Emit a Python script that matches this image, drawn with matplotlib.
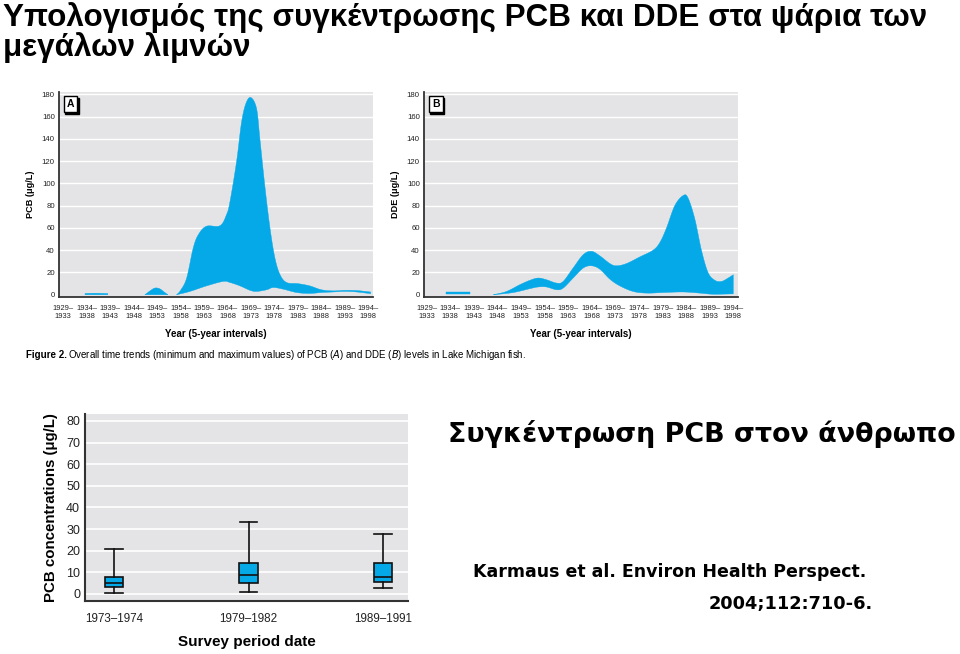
import numpy as np
import matplotlib
matplotlib.use("Agg")
import matplotlib.pyplot as plt
from matplotlib.transforms import offset_copy

plt.rcParams['font.family'] = ['Liberation Sans', 'DejaVu Sans']

# ---------------- data ----------------
intervals = ["1929–\n1933", "1934–\n1938", "1939–\n1943", "1944–\n1948", "1949–\n1953",
             "1954–\n1958", "1959–\n1963", "1964–\n1968", "1969–\n1973", "1974–\n1978",
             "1979–\n1983", "1984–\n1988", "1989–\n1993", "1994–\n1998"]

# PCB (panel A): blobs of (x position in interval units, max, min)
pcb_b1_x = [0.93, 1.4, 1.9]
pcb_b1_max = [1.2, 1.4, 1.1]
pcb_b1_min = [0.0, 0.0, 0.0]

pcb_b2_x = [3.48, 3.7, 3.9, 4.1, 4.3, 4.46]
pcb_b2_max = [0.0, 3.5, 6.0, 5.5, 2.5, 0.0]
pcb_b2_min = [0.0, 0.0, 0.0, 0.0, 0.0, 0.0]

pcb_max_x = [4.83, 5.0, 5.26, 5.54, 5.76, 6.1, 6.68, 6.96, 7.11, 7.39, 7.6, 7.79, 8.0,
             8.24, 8.38, 8.6, 8.81, 9.02, 9.24, 9.52, 10.0, 10.5, 11.0, 11.5, 12.0, 12.5, 13.1]
pcb_max = [0, 4, 15, 42, 54, 61.5, 62, 72, 84, 120, 155, 172, 177,
           167, 140, 96, 60, 33, 18, 11, 10, 8, 4.5, 3.5, 4, 3.8, 2.5]
pcb_min_x = [4.83, 5.4, 6.11, 6.82, 7.11, 7.53, 7.96, 8.24, 8.67, 8.95, 9.38, 9.95,
             10.5, 11.0, 11.5, 12.0, 12.5, 13.1]
pcb_min = [0, 3, 8, 12, 11, 8, 4, 3, 4.5, 6.5, 5, 2,
           1.2, 2, 2.5, 3, 2.5, 1]

# DDE (panel B)
dde_b1_x = [0.82, 1.3, 1.84]
dde_b1_max = [2.2, 2.2, 2.2]
dde_b1_min = [0.3, 0.3, 0.3]

dde_max_x = [2.83, 3.39, 3.95, 4.38, 4.73, 5.08, 5.51, 5.79, 6.21, 6.64, 6.99, 7.34, 7.77,
             8.05, 8.47, 9.04, 9.6, 9.89, 10.17, 10.52, 10.87, 11.08, 11.37, 11.65, 11.93,
             12.22, 12.5, 12.78, 13.0]
dde_max = [0, 3, 9, 13, 15, 13.5, 10.5, 12, 24, 36, 39, 35, 28,
           26, 28, 34, 40, 47, 60, 80, 89, 87, 68, 40, 20,
           13, 12, 15, 18]
dde_min_x = [2.83, 3.67, 4.38, 4.73, 5.08, 5.51, 5.79, 6.21, 6.64, 6.99, 7.34, 7.77,
             8.19, 8.75, 9.32, 10.03, 10.87, 11.58, 12.14, 13.0]
dde_min = [0, 2, 5.5, 7, 7, 4.5, 6, 15, 24, 26, 23, 14,
           8, 3, 1.5, 2, 2.5, 1.5, 0.5, 0.8]

# Human PCB box plot
periods = ["1973–1974", "1979–1982", "1989–1991"]
box_low = [0.3, 0.9, 2.9]
box_q1 = [3.4, 4.9, 5.4]
box_med = [5.1, 8.8, 8.0]
box_q3 = [8.0, 14.3, 14.3]
box_high = [20.6, 33.4, 27.6]

BLUE = '#06a9e8'
BG = '#e4e4e6'
SPINE = '#333333'


def smooth(xs, ys, n=16):
    P = np.column_stack([xs, ys]).astype(float)
    P = np.vstack([2 * P[0] - P[1], P, 2 * P[-1] - P[-2]])
    out = []
    t = np.linspace(0, 1, n, endpoint=False)[:, None]
    for i in range(1, len(P) - 2):
        p0, p1, p2, p3 = P[i - 1], P[i], P[i + 1], P[i + 2]
        pts = 0.5 * ((2 * p1) + (-p0 + p2) * t + (2 * p0 - 5 * p1 + 4 * p2 - p3) * t ** 2
                     + (-p0 + 3 * p1 - 3 * p2 + p3) * t ** 3)
        out.append(pts)
    out.append(P[-2][None])
    r = np.vstack(out)
    r[:, 1] = np.clip(r[:, 1], 0, None)
    return r


def blob(ax, xu, yu, xl, yl):
    u = smooth(xu, yu)
    l = smooth(xl, yl)[::-1]
    poly = np.vstack([u, l])
    ax.fill(poly[:, 0], poly[:, 1], color=BLUE, lw=0.3, ec=BLUE, zorder=3)


def style_panel(ax, ylabel, letter, xlim):
    ax.set_facecolor(BG)
    ax.set_xlim(*xlim)
    ax.set_ylim(-2, 182)
    ax.set_yticks(range(0, 181, 20))
    ax.set_xticks(range(len(intervals)))
    ax.set_xticklabels(intervals, fontsize=5.4, linespacing=1.2)
    ax.tick_params(axis='both', length=0, colors='#222222')
    ax.tick_params(axis='x', pad=6)
    ax.tick_params(axis='y', labelsize=5.6, pad=3)
    for yv in range(20, 181, 20):
        ax.axhline(yv, color='white', lw=1.0, zorder=1)
    for s in ['top', 'right']:
        ax.spines[s].set_visible(False)
    for s in ['left', 'bottom']:
        ax.spines[s].set_color(SPINE)
        ax.spines[s].set_linewidth(1.3)
    ax.set_ylabel(ylabel, fontsize=6.6, fontweight='bold', labelpad=5)
    ax.set_xlabel("Year (5-year intervals)", fontsize=7, fontweight='bold', labelpad=6)
    sh = offset_copy(ax.transAxes, fig=ax.figure, x=1.5, y=-1.5, units='dots')
    ax.text(0.025, 0.965, letter, transform=sh, fontsize=7.5, fontweight='bold',
            va='top', ha='left', zorder=4, color='black',
            bbox=dict(boxstyle='square,pad=0.3', fc='black', ec='black', lw=1.0))
    ax.text(0.025, 0.965, letter, transform=ax.transAxes, fontsize=7.5, fontweight='bold',
            va='top', ha='left', zorder=5,
            bbox=dict(boxstyle='square,pad=0.3', fc='white', ec='black', lw=1.0))


fig = plt.figure(figsize=(9.6, 6.54), dpi=100)
fig.patch.set_facecolor('white')

# Title
fig.text(0.003, 1 - 26 / 654, "Υπολογισμός της συγκέντρωσης PCB και DDE στα ψάρια των",
         fontsize=22.6, fontweight='bold', va='baseline', ha='left')
fig.text(0.003, 1 - 56 / 654, "μεγάλων λιμνών",
         fontsize=22.6, fontweight='bold', va='baseline', ha='left')

# Panel A
axA = fig.add_axes([59 / 960, 1 - 297 / 654, 314 / 960, 205 / 654])
style_panel(axA, "PCB (μg/L)", "A", (-0.18, 13.2))
blob(axA, pcb_b1_x, pcb_b1_max, pcb_b1_x, pcb_b1_min)
blob(axA, pcb_b2_x, pcb_b2_max, pcb_b2_x, pcb_b2_min)
blob(axA, pcb_max_x, pcb_max, pcb_min_x, pcb_min)

# Panel B
axB = fig.add_axes([424 / 960, 1 - 297 / 654, 314 / 960, 205 / 654])
style_panel(axB, "DDE (μg/L)", "B", (-0.11, 13.2))
blob(axB, dde_b1_x, dde_b1_max, dde_b1_x, dde_b1_min)
blob(axB, dde_max_x, dde_max, dde_min_x, dde_min)

# Caption
fig.text(26 / 960, 1 - 358 / 654, "Figure 2.", fontsize=7.0, fontweight='bold',
         va='baseline', ha='left')
fig.text(68 / 960, 1 - 358 / 654,
         "Overall time trends (minimum and maximum values) of PCB ($\\it{A}$) and DDE ($\\it{B}$) levels in Lake Michigan fish.",
         fontsize=7.0, va='baseline', ha='left')

# Box plot
axC = fig.add_axes([85 / 960, 1 - 601 / 654, 323 / 960, 187 / 654])
axC.set_facecolor(BG)
axC.set_xlim(-0.216, 2.186)
axC.set_ylim(-3.24, 83.2)
for yv in range(0, 81, 10):
    axC.axhline(yv, color='white', lw=1.2, zorder=1)
stats = [dict(med=m, q1=a, q3=b, whislo=lo, whishi=hi, label=p)
         for p, lo, a, m, b, hi in zip(periods, box_low, box_q1, box_med, box_q3, box_high)]
axC.bxp(stats, positions=range(len(periods)), widths=0.135, capwidths=0.13,
        showfliers=False, patch_artist=True,
        boxprops=dict(facecolor=BLUE, edgecolor='#111111', lw=1.2),
        medianprops=dict(color='#111111', lw=1.2),
        whiskerprops=dict(color='#111111', lw=1.2),
        capprops=dict(color='#111111', lw=1.2), zorder=3)
axC.set_yticks(range(0, 81, 10))
axC.tick_params(axis='both', length=0, colors='#222222')
axC.tick_params(axis='y', labelsize=9, pad=3.5)
axC.tick_params(axis='x', labelsize=8.4, pad=9)
for s in ['top', 'right']:
    axC.spines[s].set_visible(False)
for s in ['left', 'bottom']:
    axC.spines[s].set_color(SPINE)
    axC.spines[s].set_linewidth(1.5)
axC.set_ylabel("PCB concentrations (μg/L)", fontsize=10.8, fontweight='bold', labelpad=6)
axC.set_xlabel("Survey period date", fontsize=11, fontweight='bold', labelpad=7)

# Right side texts
fig.text(448 / 960, 1 - 442 / 654, "Συγκέντρωση PCB στον άνθρωπο", fontsize=19.4,
         family=['DejaVu Sans'], fontweight='bold', va='baseline', ha='left')
fig.text(473 / 960, 1 - 577 / 654, "Karmaus et al. Environ Health Perspect.", fontsize=12.5,
         family=['DejaVu Sans'], fontweight='bold', va='baseline', ha='left')
fig.text(709 / 960, 1 - 609 / 654, "2004;112:710-6.", fontsize=12.8,
         family=['DejaVu Sans'], fontweight='bold', va='baseline', ha='left')

fig.savefig("out.png", dpi=100, facecolor='white')
